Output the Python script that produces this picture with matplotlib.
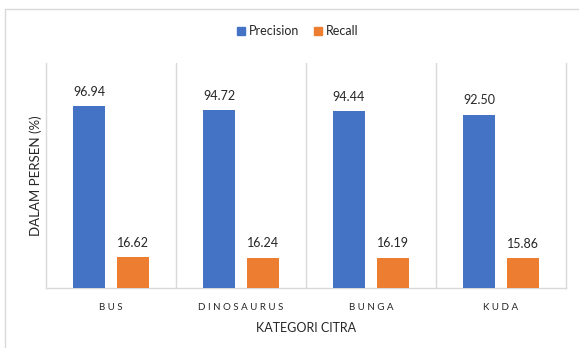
import matplotlib.pyplot as plt
from matplotlib.patches import Rectangle, Patch
import numpy as np

plt.rcParams['font.family'] = ['Lato', 'DejaVu Sans']

# Data
categories = ["BUS", "DINOSAURUS", "BUNGA", "KUDA"]
precision = [96.94, 94.72, 94.44, 92.50]
recall = [16.62, 16.24, 16.19, 15.86]

blue = '#4472C4'
orange = '#ED7D31'
grid_col = '#D9D9D9'
text_col = '#262626'

fig = plt.figure(figsize=(5.79, 3.48), dpi=100)

# chart area border (runs off the right and bottom edges)
fig.patches.append(Rectangle((5 / 579, -0.1), 1.2, 1 - 9 / 348 + 0.1,
                             transform=fig.transFigure, fill=False,
                             edgecolor='#D9D9D9', linewidth=1.0))

ax = fig.add_axes([46 / 579, 1 - 288 / 348, 520 / 579, 225 / 348])

x = np.arange(len(categories))
w = 0.246
off = 0.169
b1 = ax.bar(x - off, precision, w, color=blue, zorder=3)
b2 = ax.bar(x + off, recall, w, color=orange, zorder=3)

for bars, vals in ((b1, precision), (b2, recall)):
    for bar, v in zip(bars, vals):
        ax.annotate(f"{v:.2f}", (bar.get_x() + bar.get_width() / 2, v),
                    xytext=(0, 6), textcoords='offset points',
                    ha='center', va='bottom', fontsize=9, color=text_col)

ax.set_xlim(-0.5, len(categories) - 0.5)
ax.set_ylim(0, 120)

# vertical separators between categories
for xv in np.arange(0.5, len(categories) - 0.5, 1):
    ax.axvline(xv, color=grid_col, linewidth=1.0, zorder=1)

ax.spines['top'].set_visible(False)
for s in ['left', 'right', 'bottom']:
    ax.spines[s].set_color(grid_col)
    ax.spines[s].set_linewidth(1.0)

ax.set_yticks([])
ax.set_xticks(x)
ax.set_xticklabels([" ".join(c) for c in categories], fontsize=7, color=text_col)
ax.tick_params(axis='x', length=0, pad=11)

ax.set_xlabel("KATEGORI CITRA", fontsize=9, color=text_col, labelpad=7)
ax.set_ylabel("DALAM PERSEN (%)", fontsize=9.5, color=text_col, labelpad=3)

handles = [Patch(color=blue, label='Precision'), Patch(color=orange, label='Recall')]
fig.legend(handles=handles, loc='center', bbox_to_anchor=(298 / 579, 1 - 31 / 348),
           ncol=2, frameon=False, fontsize=9, handlelength=0.6, handleheight=0.6,
           handletextpad=0.35, columnspacing=1.2, labelcolor=text_col)

fig.savefig("out.png", dpi=100)
